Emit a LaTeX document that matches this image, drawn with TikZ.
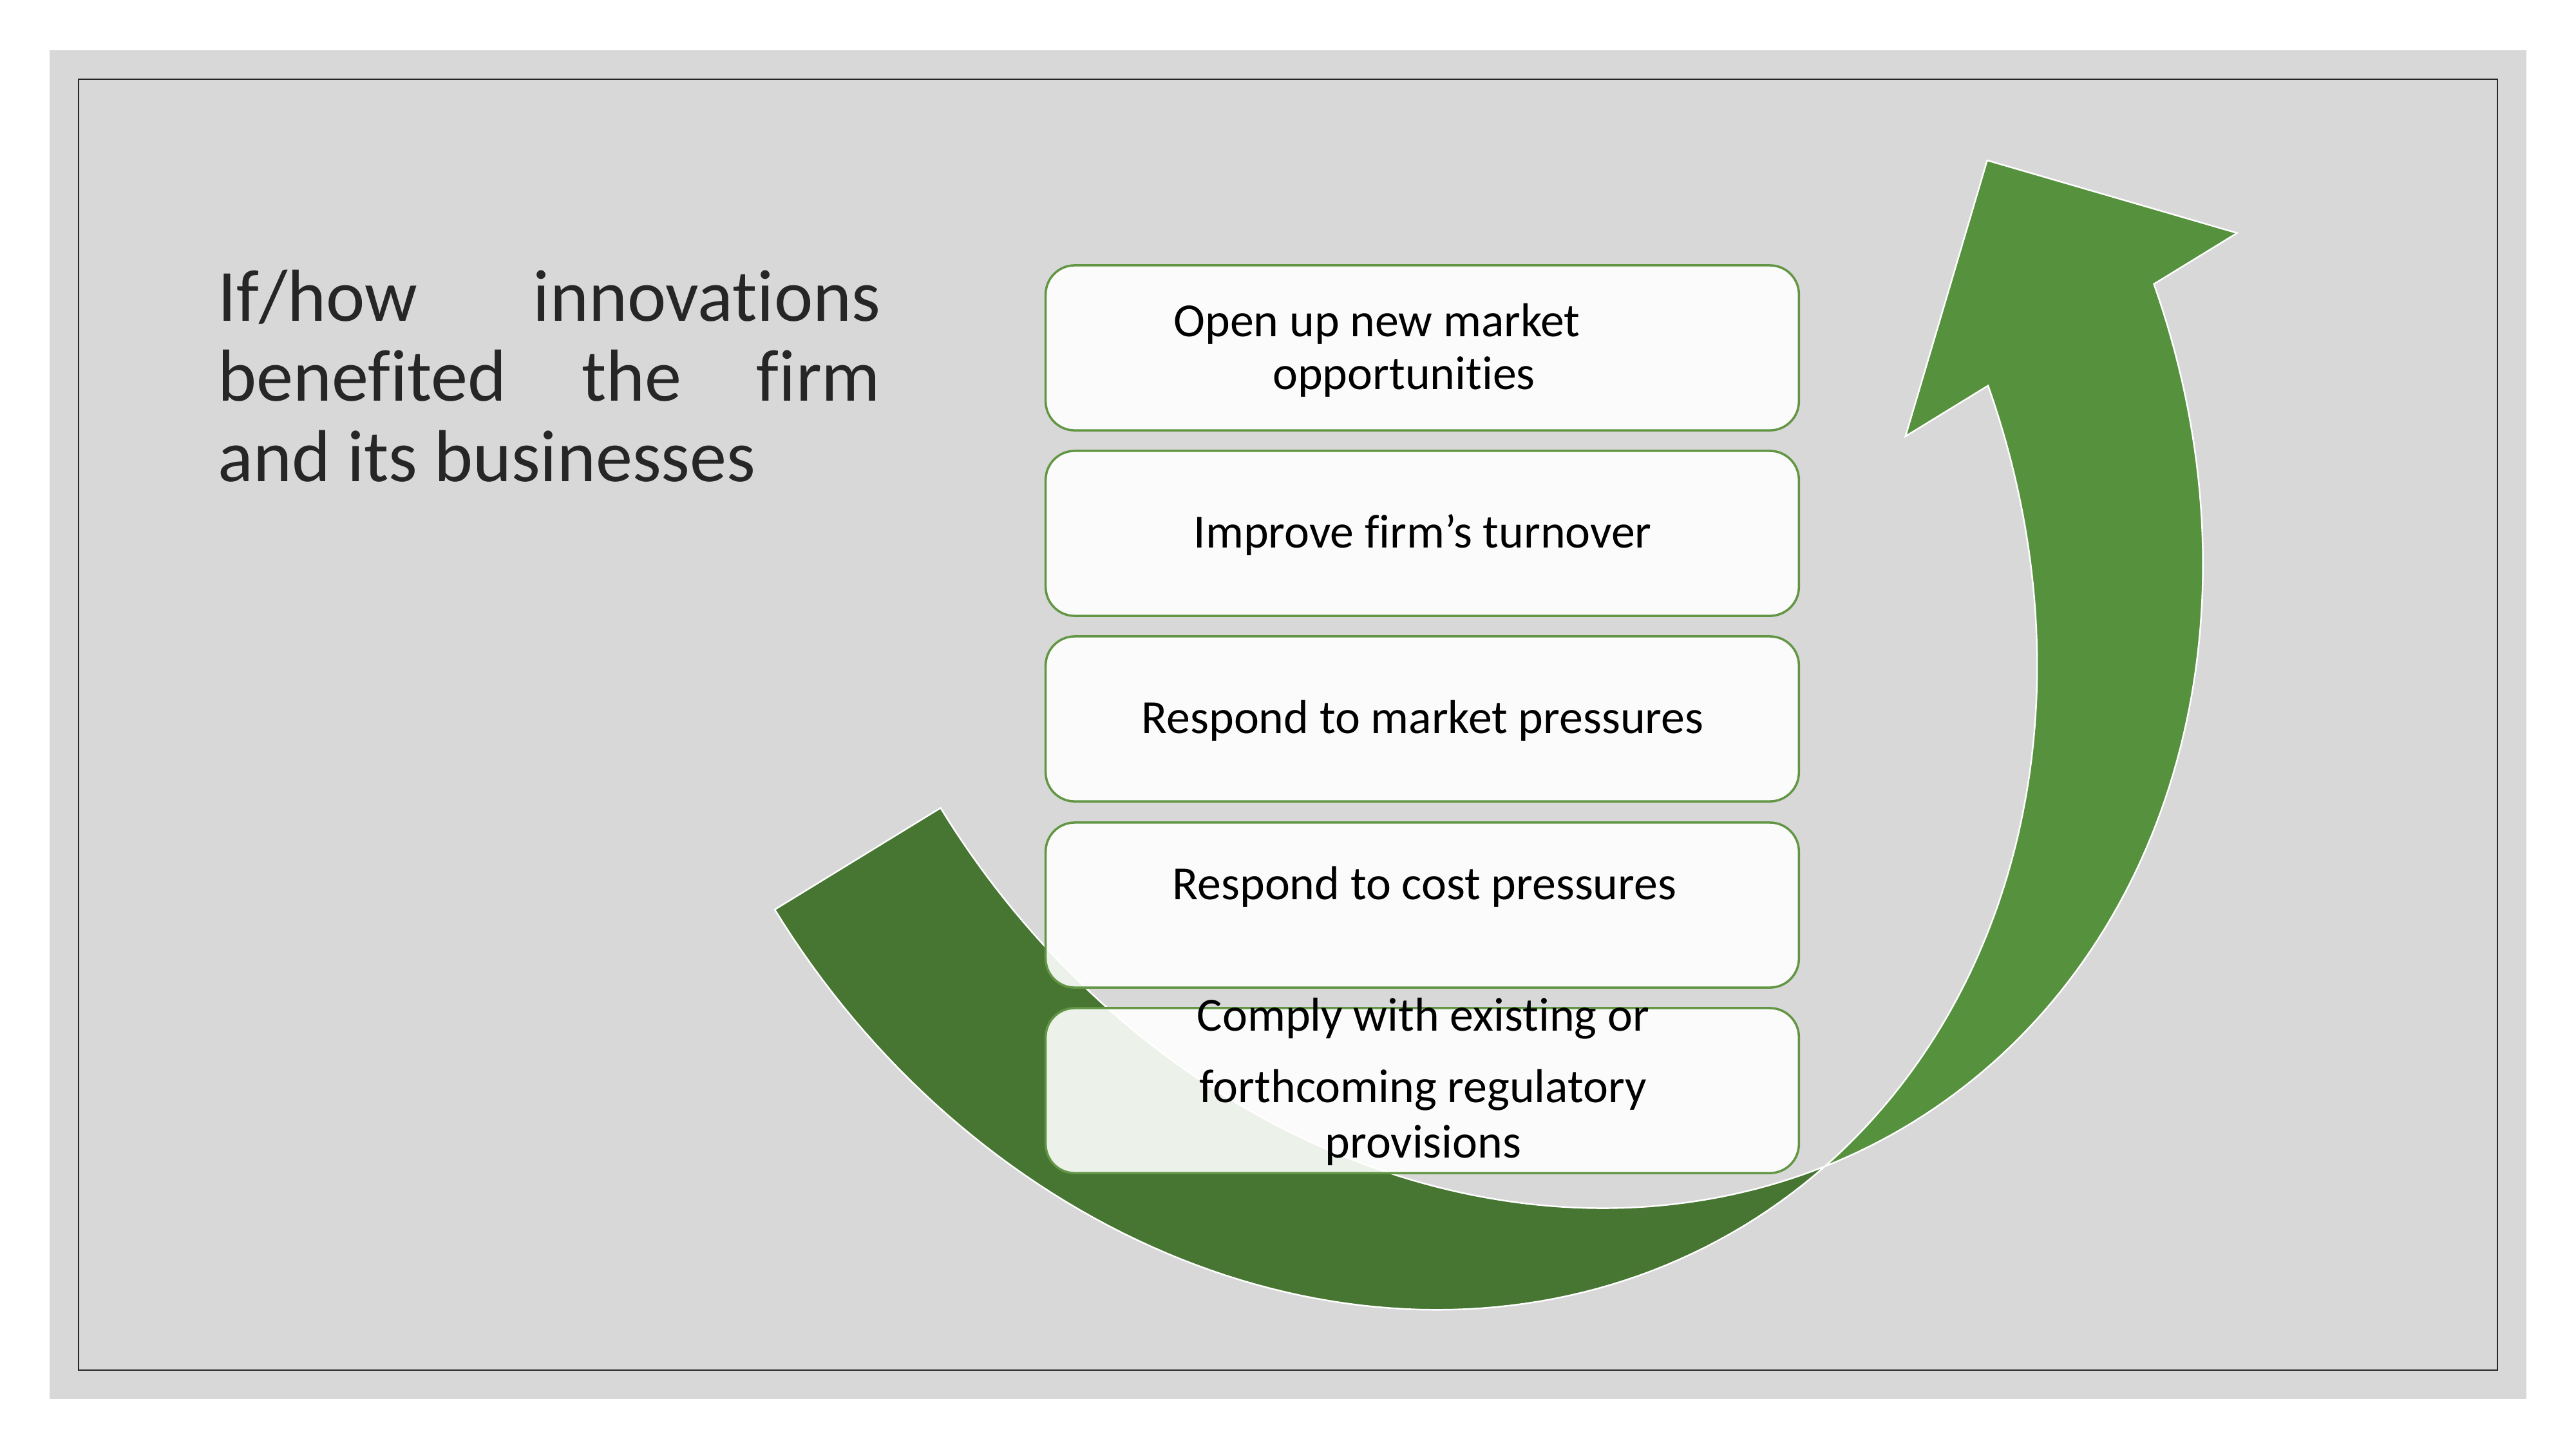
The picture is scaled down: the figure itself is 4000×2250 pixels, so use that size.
\documentclass[tikz,border=0pt]{standalone}
\usepackage{fontspec}
\setmainfont{Carlito}[Ligatures=NoCommon]
\definecolor{bggray}{RGB}{216,216,216}
\definecolor{framec}{RGB}{38,38,38}
\definecolor{darkg}{RGB}{71,117,50}
\definecolor{lightg}{RGB}{86,145,62}
\definecolor{boxline}{RGB}{98,150,68}
\definecolor{titlec}{RGB}{38,38,38}
\begin{document}
\begin{tikzpicture}[x=0.01cm,y=-0.01cm,
  boxstyle/.style={draw=boxline, line width=1pt, fill=white, fill opacity=0.9, rounded corners=0.45cm, minimum width=11.69cm, minimum height=2.56cm, inner sep=0pt},
  boxtext/.style={font=\fontsize{21}{25}\selectfont, text=black, inner sep=0pt, anchor=base},
  titletext/.style={font=\fontsize{32.5}{35.4}\selectfont, text=titlec, inner sep=0pt, anchor=base west},
  arrowpart/.style={draw=white, line width=0.7pt, line join=miter}]
\useasboundingbox (0,0) rectangle (4000,2250);
\fill[white] (0,0) rectangle (4000,2250);
\fill[bggray] (77,78) rectangle (3923,2172);
\draw[framec, line width=0.7pt] (122,123) rectangle (3878,2127);

\begin{scope}[shift={(1203,1412)}, rotate=31.5]
 \draw[arrowpart, fill=darkg] plot[domain=180:81.578, samples=80, variable=\t] ({1031+1031*cos(\t)},{1205*sin(\t)}) -- plot[domain=98.422:180, samples=80, variable=\t] ({1333+1031*cos(\t)},{1205*sin(\t)}) -- cycle;
 \draw[arrowpart, fill=lightg] plot[domain=98.422:13.975, samples=80, variable=\t] ({1333+1031*cos(\t)},{1205*sin(\t)}) -- (2485,291) -- (2213,-8) -- (1881,291) -- plot[domain=13.975:81.578, samples=80, variable=\t] ({1031+1031*cos(\t)},{1205*sin(\t)}) -- cycle;
\end{scope}

\node[boxstyle] (b1) at (2208.5,540) {};
\node[boxstyle] (b2) at (2208.5,828) {};
\node[boxstyle] (b3) at (2208.5,1116) {};
\node[boxstyle] (b4) at (2208.5,1405) {};
\node[boxstyle] (b5) at (2208.5,1693) {};

\node[boxtext] (t1a) at (2138,522) {Open up new market};
\node[boxtext] (t1b) at (2180,604) {opportunities};
\node[boxtext] (t2) at (2209,850) {Improve firm’s turnover};
\node[boxtext] (t3) at (2209,1138) {Respond to market pressures};
\node[boxtext] (t4) at (2212,1396) {Respond to cost pressures};
\node[boxtext] (t5a) at (2210,1600) {Comply with existing or};
\node[boxtext] (t5b) at (2210,1711) {forthcoming regulatory};
\node[boxtext] (t5c) at (2210,1797) {provisions};

\node[titletext] (h1) at (338,498) {\hbox to 292.5pt{If/how\hfill innovations}};
\node[titletext] (h2) at (338,622) {\hbox to 292.5pt{benefited\hfill the\hfill firm}};
\node[titletext] (h3) at (338,747) {and its businesses};
\end{tikzpicture}
\end{document}
